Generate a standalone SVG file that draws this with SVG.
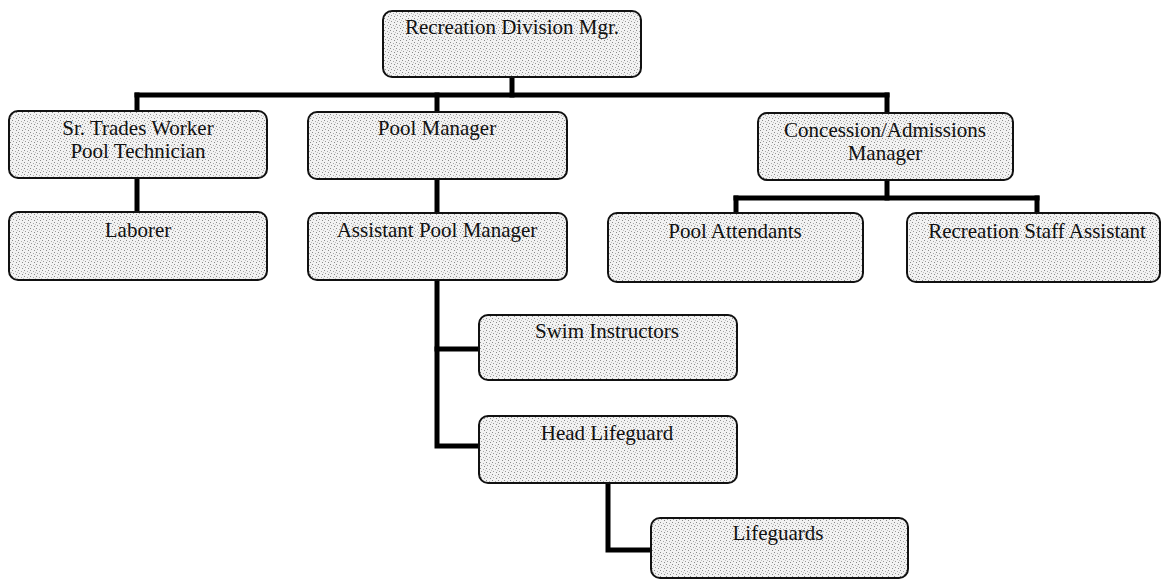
<svg xmlns="http://www.w3.org/2000/svg" width="1161" height="580" viewBox="0 0 1161 580">
<style>
.box{fill:url(#stip);stroke:#111;stroke-width:2}
.t{font-family:"Liberation Serif","Times New Roman",serif;font-size:21px;fill:#111;text-anchor:middle}
.c{fill:none;stroke:#000;stroke-width:5;stroke-linecap:square}
</style>
<defs>
<pattern id="stip" width="6" height="6" patternUnits="userSpaceOnUse">
<rect width="6" height="6" fill="#f2f2f2"/>
<rect x="0" y="0" width="1" height="1" fill="#8a8a8a"/>
<rect x="3" y="1" width="1" height="1" fill="#a8a8a8"/>
<rect x="1" y="3" width="1" height="1" fill="#9a9a9a"/>
<rect x="4" y="4" width="1" height="1" fill="#8a8a8a"/>
<rect x="5" y="2" width="1" height="1" fill="#c0c0c0"/>
</pattern>
</defs>
<rect width="1161" height="580" fill="#fff"/>
<g id="connectors">
<path class="c" d="M512 77V95"/>
<path class="c" d="M137 95H887"/>
<path class="c" d="M137 95V111"/>
<path class="c" d="M437 95V112"/>
<path class="c" d="M887 95V113"/>
<path class="c" d="M137 178V212"/>
<path class="c" d="M437 179V213"/>
<path class="c" d="M887 180V198"/>
<path class="c" d="M736 198H1037"/>
<path class="c" d="M736 198V213"/>
<path class="c" d="M1037 198V213"/>
<path class="c" d="M437 280V446H479"/>
<path class="c" d="M437 349H479"/>
<path class="c" d="M608 483V550H651"/>
</g>
<g id="n-top"><rect class="box" x="383" y="11" width="258" height="66" rx="9"/><text class="t" x="512" y="34">Recreation Division Mgr.</text></g>
<g id="n-sr"><rect class="box" x="9" y="111" width="258" height="67" rx="9"/><text class="t" x="138" y="135">Sr. Trades Worker</text><text class="t" x="138" y="158">Pool Technician</text></g>
<g id="n-pm"><rect class="box" x="308" y="112" width="259" height="67" rx="9"/><text class="t" x="437" y="135">Pool Manager</text></g>
<g id="n-cam"><rect class="box" x="758" y="113" width="255" height="67" rx="9"/><text class="t" x="885" y="137">Concession/Admissions</text><text class="t" x="885" y="160">Manager</text></g>
<g id="n-lab"><rect class="box" x="9" y="212" width="258" height="68" rx="9"/><text class="t" x="138" y="237">Laborer</text></g>
<g id="n-apm"><rect class="box" x="308" y="213" width="259" height="67" rx="9"/><text class="t" x="437" y="237">Assistant Pool Manager</text></g>
<g id="n-pa"><rect class="box" x="608" y="213" width="255" height="69" rx="9"/><text class="t" x="735" y="238">Pool Attendants</text></g>
<g id="n-rsa"><rect class="box" x="907" y="213" width="253" height="69" rx="9"/><text class="t" x="1037" y="238">Recreation Staff Assistant</text></g>
<g id="n-swim"><rect class="box" x="479" y="315" width="258" height="65" rx="9"/><text class="t" x="607" y="338">Swim Instructors</text></g>
<g id="n-head"><rect class="box" x="479" y="416" width="258" height="67" rx="9"/><text class="t" x="607" y="440">Head Lifeguard</text></g>
<g id="n-life"><rect class="box" x="651" y="518" width="257" height="60" rx="9"/><text class="t" x="778" y="540">Lifeguards</text></g>
</svg>
